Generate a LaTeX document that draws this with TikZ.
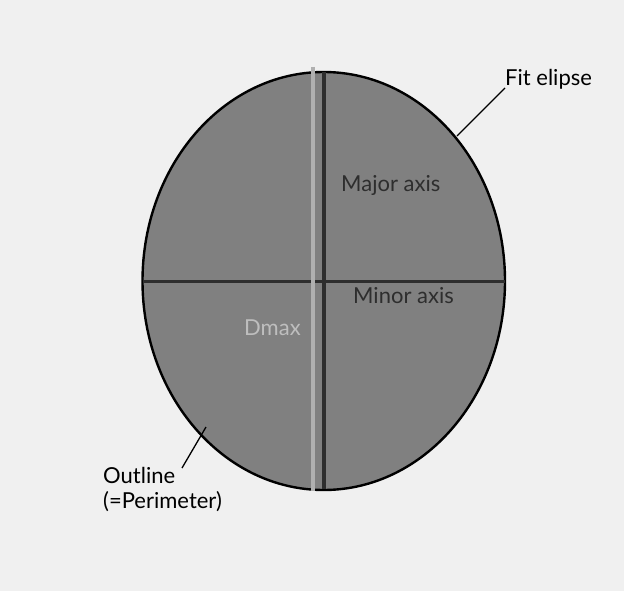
\documentclass[tikz,border=0pt]{standalone}
\usepackage{fontspec}
\setmainfont{Lato}
\definecolor{bgc}{HTML}{F0F0F0}
\definecolor{fillgray}{HTML}{808080}
\definecolor{axisc}{HTML}{2E2E2E}
\definecolor{lightbar}{HTML}{B0B0B0}
\definecolor{dmaxc}{HTML}{BEBEBE}
\begin{document}
\begin{tikzpicture}[x=1pt,y=-1pt,
  lbl/.style={font=\fontsize{22}{26}\selectfont, text=black, inner sep=0pt, anchor=base west},
  inlbl/.style={font=\fontsize{22}{26}\selectfont, text=axisc, inner sep=0pt, anchor=base west},
  leader/.style={draw=black, line width=1.3pt},
  axisline/.style={draw=axisc, line width=3.2pt}]
\fill[bgc] (0,0) rectangle (624,591);
\useasboundingbox (0,0) rectangle (624,591);
% shape and outline
\fill[fillgray] (323.75,281) ellipse [x radius=181.25, y radius=209];
\draw[black, line width=2.4pt] (323.75,281) ellipse [x radius=181.25, y radius=209];
% axes
\coordinate (minL) at (142.5,281.5);
\coordinate (minR) at (505,281.5);
\coordinate (majT) at (324,72);
\coordinate (majB) at (324,489);
\coordinate (dT) at (313,67);
\coordinate (dB) at (313,491);
\draw[axisline] (minL) -- (minR);
\draw[axisline] (majT) -- (majB);
\draw[draw=lightbar, line width=4pt] (dT) -- (dB);
% inner labels
\node[inlbl] (major) at (341,192) {Major axis};
\node[inlbl] (minor) at (353,303) {Minor axis};
\node[inlbl, text=dmaxc] (dmax) at (244,335) {Dmax};
% outer labels
\node[lbl] (fit) at (505,86) {Fit elipse};
\coordinate (fitpt) at (457,136);
\draw[leader] (fit.base west) ++(0,2) -- (fitpt);
\node[lbl] (outline) at (103,483) {Outline};
\node[lbl] (perim) at (103,508) {(=Perimeter)};
\coordinate (outpt) at (206,427);
\coordinate (outst) at (182,468);
\draw[leader] (outst) -- (outpt);
\end{tikzpicture}
\end{document}
